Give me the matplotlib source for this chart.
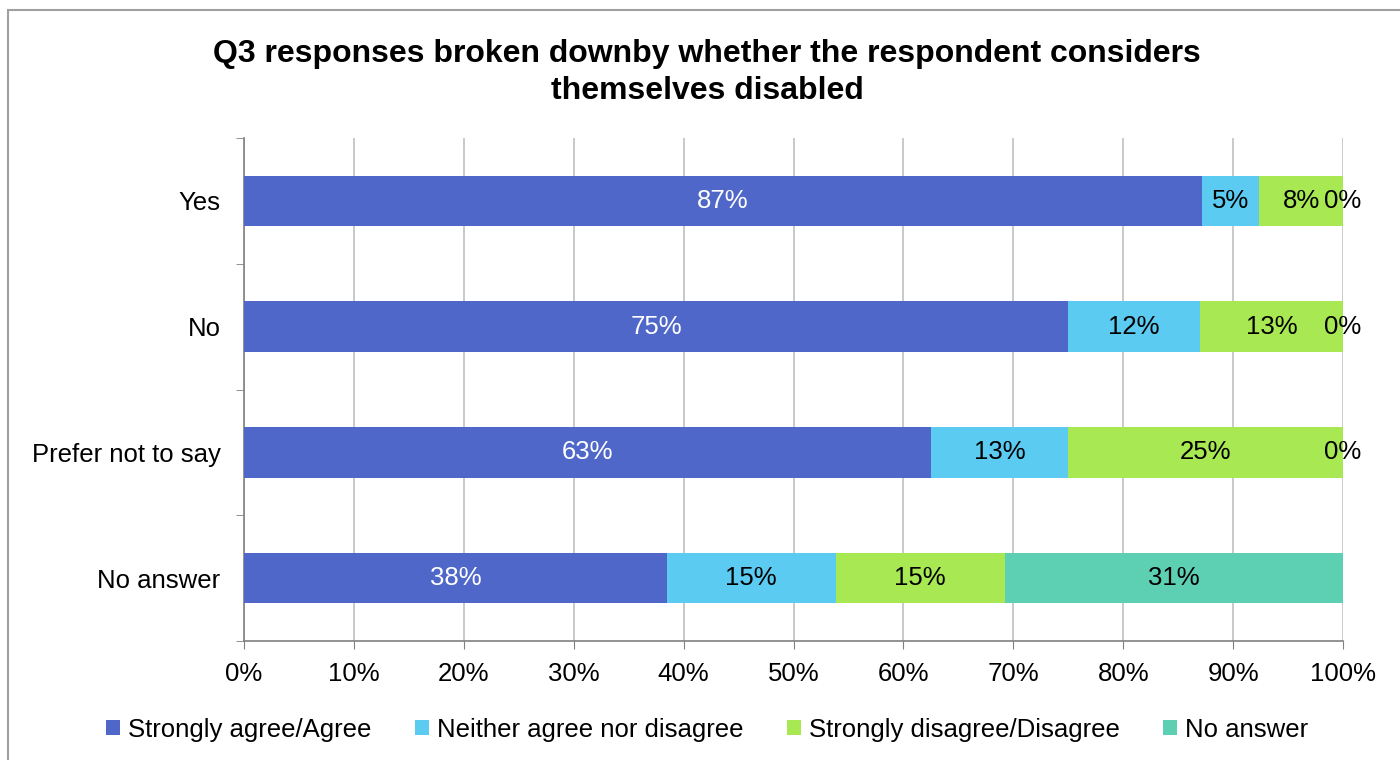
import matplotlib.pyplot as plt
from matplotlib.patches import Rectangle
import numpy as np

plt.rcParams['font.family'] = ['Liberation Sans', 'DejaVu Sans']

groups = ['Yes', 'No', 'Prefer not to say', 'No answer']
series = ['Strongly agree/Agree', 'Neither agree nor disagree',
          'Strongly disagree/Disagree', 'No answer']
agree = [87.2, 75.0, 62.5, 38.46]
neither = [5.2, 12.0, 12.5, 15.38]
disagree = [7.6, 13.0, 25.0, 15.38]
no_answer = [0.0, 0.0, 0.0, 30.77]

colors = ['#4F67C8', '#5BCBF2', '#A8E852', '#5DCFB2']
label_colors = ['white', 'black', 'black', 'black']

fig = plt.figure(figsize=(14, 7.6), dpi=100)
ax = fig.add_axes([0.1743, 0.1566, 0.785, 0.6618])

# outer chart frame
fig.patches.append(Rectangle((8 / 1400, -0.05), 1.1, 1 - 10 / 760 + 0.05,
                             transform=fig.transFigure, fill=False,
                             edgecolor='#A0A0A0', linewidth=1.5))

y = np.arange(len(groups))
left = np.zeros(len(groups))
for vals, name, col, lc in zip([agree, neither, disagree, no_answer],
                               series, colors, label_colors):
    vals = np.array(vals)
    ax.barh(y, vals, left=left, height=0.4, color=col, label=name, zorder=3)
    for yi, l, v in zip(y, left, vals):
        # round half up, like the spreadsheet does
        ax.text(l + v / 2, yi, f'{int(np.floor(v + 0.5))}%', ha='center', va='center',
                color=lc, fontsize=18.5, zorder=4)
    left += vals

ax.set_xlim(0, 100)
ax.set_ylim(len(groups) - 0.5, -0.5)
ax.set_xticks(np.arange(0, 101, 10))
ax.set_xticklabels([f'{t}%' for t in range(0, 101, 10)], fontsize=18.5)
ax.set_yticks(y)
ax.set_yticklabels(groups, fontsize=18.5)
ax.set_yticks(np.arange(-0.5, len(groups), 1), minor=True)
ax.tick_params(axis='y', which='major', length=0, pad=17)
ax.tick_params(axis='y', which='minor', length=6, color='#808080', direction='out')
ax.tick_params(axis='x', length=6, color='#808080', pad=9)
ax.grid(axis='x', color='#C0C0C0', linewidth=1.2, zorder=0)
for s in ['top', 'right']:
    ax.spines[s].set_visible(False)
for s in ['left', 'bottom']:
    ax.spines[s].set_color('#808080')
    ax.spines[s].set_linewidth(1.2)

fig.text(0.505, 0.905, 'Q3 responses broken downby whether the respondent considers\nthemselves disabled',
         ha='center', va='center', fontsize=23, fontweight='bold', linespacing=1.3)

fig.legend(loc='center', bbox_to_anchor=(0.505, 0.040), ncol=4, frameon=False,
           fontsize=18.5, handlelength=0.55, handleheight=0.55, handletextpad=0.3,
           columnspacing=1.7)

fig.savefig('out.png', dpi=100)
